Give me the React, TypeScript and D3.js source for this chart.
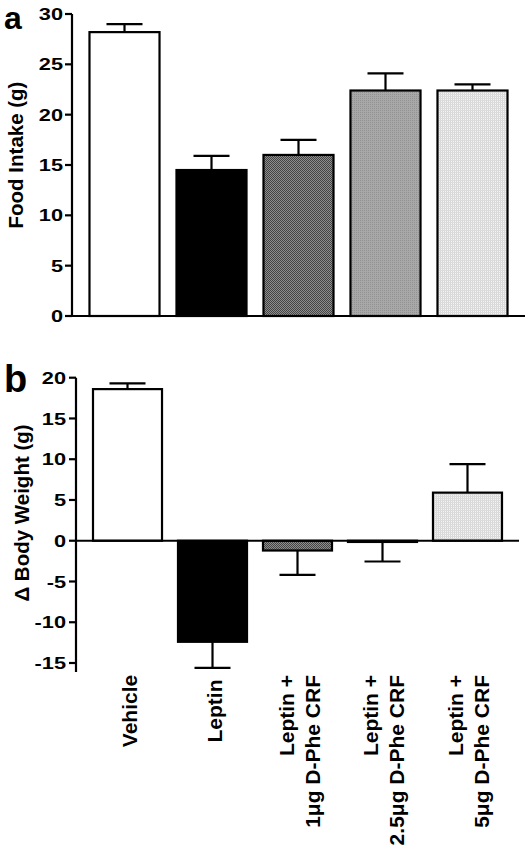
import React from "react";
import * as d3 from "d3";

const categories: string[][] = [
  ["Vehicle"],
  ["Leptin"],
  ["Leptin +", "1μg D-Phe CRF"],
  ["Leptin +", "2.5μg D-Phe CRF"],
  ["Leptin +", "5μg D-Phe CRF"],
];
const keys = ["veh", "lep", "d1", "d25", "d5"];
const foodMean = [28.2, 14.5, 16.0, 22.4, 22.4];
const foodErr = [0.8, 1.4, 1.5, 1.7, 0.6];
const weightMean = [18.6, -12.4, -1.2, -0.15, 5.9];
const weightErr = [0.7, 3.2, 3.0, 2.4, 3.5];
const foodTicks = [0, 5, 10, 15, 20, 25, 30];
const weightTicks = [-15, -10, -5, 0, 5, 10, 15, 20];
const fills = ["#ffffff", "#000000", "url(#pDark)", "url(#pMid)", "url(#pLight)"];

const FONT = "'Liberation Sans', Arial, Helvetica, sans-serif";

export default function App() {
  const W = 531, H = 854;

  // panel a
  const xA = d3.scaleBand<string>().domain(keys).range([72, 525]).paddingInner(0.195).paddingOuter(0.201);
  const yA = d3.scaleLinear().domain([0, 30]).range([316, 14]);
  // panel b
  const xB = d3.scaleBand<string>().domain(keys).range([76, 519]).paddingInner(0.188).paddingOuter(0.2);
  const yB = d3.scaleLinear().domain([-15, 20]).range([663, 377.7]);

  const sw = 2.2;
  const capHalf = 18;

  const tickLabel = (x: number, y: number, t: string, key: string) => (
    <text key={key} transform={`translate(${x},${y}) scale(1.28,1)`} textAnchor="end" dy="0.36em"
      fontSize={17} fontWeight="bold" fontFamily={FONT}>{t}</text>
  );

  return (
    <svg width={W} height={H} style={{ position: "absolute", left: 0, top: 0, background: "#fff" }}>
      <defs>
        <pattern id="pDark" width="2" height="2" patternUnits="userSpaceOnUse">
          <rect width="2" height="2" fill="#8e8e8e" />
          <rect width="1" height="1" fill="#444444" />
          <rect x="1" y="1" width="1" height="1" fill="#444444" />
        </pattern>
        <pattern id="pMid" width="2" height="2" patternUnits="userSpaceOnUse">
          <rect width="2" height="2" fill="#a8a8a8" />
          <rect width="1" height="1" fill="#929292" />
        </pattern>
        <pattern id="pLight" width="2" height="2" patternUnits="userSpaceOnUse">
          <rect width="2" height="2" fill="#f4f4f4" />
          <rect width="1" height="2" fill="#d6d6d6" />
          <rect width="2" height="1" fill="#dcdcdc" />
        </pattern>
      </defs>

      {/* Panel a */}
      <text x={4} y={29} fontSize={32} fontWeight="bold" fontFamily={FONT}>a</text>
      <text transform={`translate(23,155) rotate(-90)`} textAnchor="middle" fontSize={20.5} fontWeight="bold" fontFamily={FONT}>Food Intake (g)</text>
      {keys.map((k, i) => {
        const x0 = xA(k)!;
        const bw = xA.bandwidth();
        const cx = x0 + bw / 2;
        const top = yA(foodMean[i]);
        const errY = yA(foodMean[i] + foodErr[i]);
        return (
          <g key={k}>
            <line x1={cx} x2={cx} y1={top} y2={errY} stroke="#000" strokeWidth={sw} />
            <line x1={cx - capHalf} x2={cx + capHalf} y1={errY} y2={errY} stroke="#000" strokeWidth={sw} />
            <rect x={x0} y={top} width={bw} height={yA(0) - top} fill={fills[i]} stroke="#000" strokeWidth={sw} />
          </g>
        );
      })}
      <line x1={72} x2={72} y1={yA(30)} y2={yA(0)} stroke="#000" strokeWidth={sw} />
      <line x1={72} x2={525} y1={yA(0)} y2={yA(0)} stroke="#000" strokeWidth={sw} />
      {foodTicks.map((t) => (
        <g key={"ta" + t}>
          <line x1={65} x2={72} y1={yA(t)} y2={yA(t)} stroke="#000" strokeWidth={sw} />
          {tickLabel(63, yA(t), String(t), "la" + t)}
        </g>
      ))}

      {/* Panel b */}
      <text x={4} y={392} fontSize={38} fontWeight="bold" fontFamily={FONT}>b</text>
      <text transform={`translate(29,513) rotate(-90)`} textAnchor="middle" fontSize={20.5} fontWeight="bold" fontFamily={FONT}>Δ Body Weight (g)</text>
      {keys.map((k, i) => {
        const x0 = xB(k)!;
        const bw = xB.bandwidth();
        const cx = x0 + bw / 2;
        const v = weightMean[i];
        const y0 = yB(0);
        const yv = yB(v);
        const errY = yB(v >= 0 ? v + weightErr[i] : v - weightErr[i]);
        return (
          <g key={k}>
            <line x1={cx} x2={cx} y1={yv} y2={errY} stroke="#000" strokeWidth={sw} />
            <line x1={cx - capHalf} x2={cx + capHalf} y1={errY} y2={errY} stroke="#000" strokeWidth={sw} />
            <rect x={x0} y={Math.min(y0, yv)} width={bw} height={Math.max(Math.abs(yv - y0), 0.5)} fill={fills[i]} stroke="#000" strokeWidth={sw} />
          </g>
        );
      })}
      <line x1={76} x2={76} y1={yB(20)} y2={yB(-15) + 9} stroke="#000" strokeWidth={sw} />
      <line x1={76} x2={519} y1={yB(0)} y2={yB(0)} stroke="#000" strokeWidth={sw} />
      {weightTicks.map((t) => (
        <g key={"tb" + t}>
          <line x1={69} x2={76} y1={yB(t)} y2={yB(t)} stroke="#000" strokeWidth={sw} />
          {tickLabel(66, yB(t), String(t), "lb" + t)}
        </g>
      ))}

      {/* Category labels */}
      {keys.map((k, i) => {
        const cx = xB(k)! + xB.bandwidth() / 2;
        const lines = categories[i];
        const n = lines.length;
        return (
          <g key={"cat" + k}>
            {lines.map((ln, j) => {
              const bx = cx + 9 + (j - (n - 1) / 2) * 26;
              const single = n === 1;
              return (
                <text key={j} transform={`translate(${bx},${single ? 711 : 675}) rotate(-90)`}
                  textAnchor={single ? "middle" : "end"} fontSize={21} fontWeight="bold" fontFamily={FONT}>{ln}</text>
              );
            })}
          </g>
        );
      })}
    </svg>
  );
}
